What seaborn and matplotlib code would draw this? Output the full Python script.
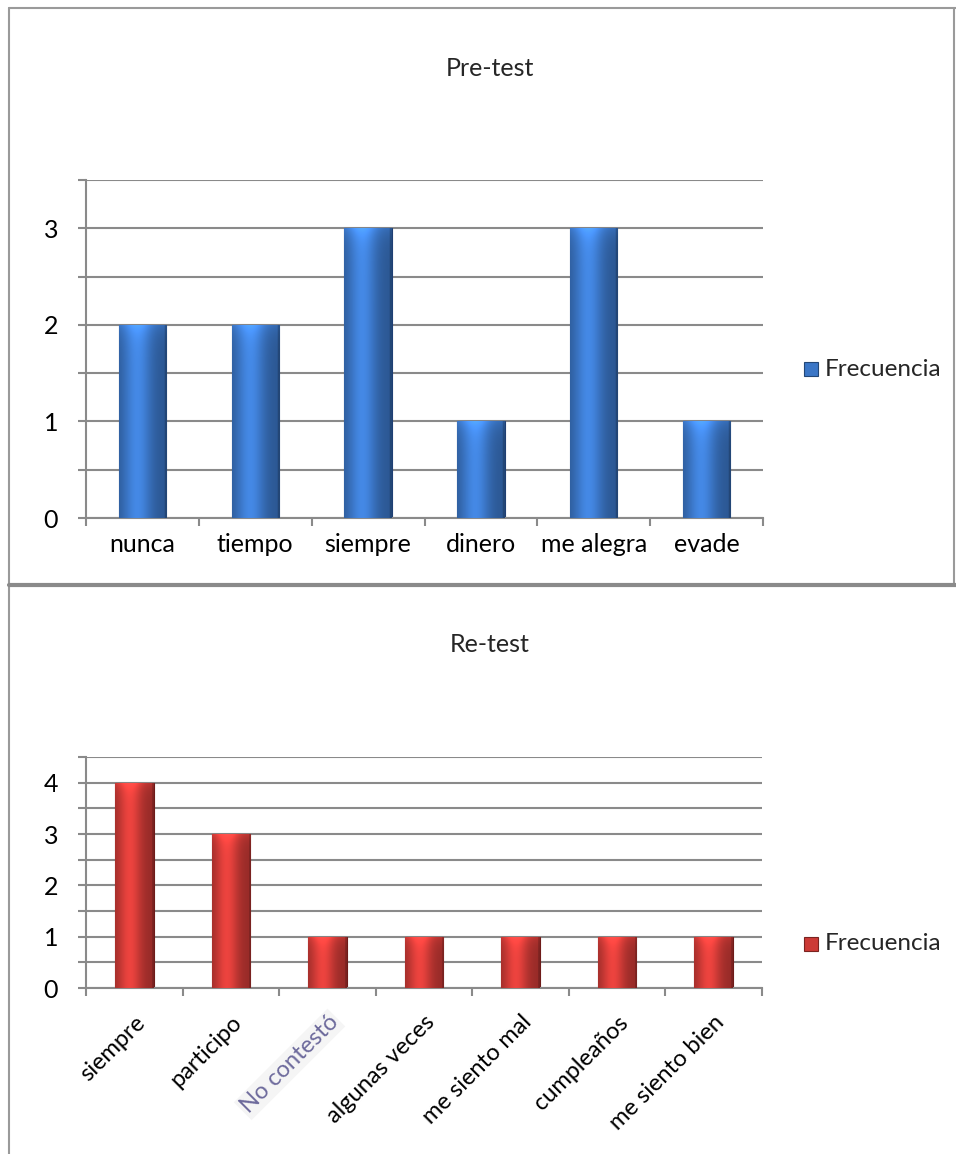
import numpy as np
import pandas as pd
import matplotlib
matplotlib.use("Agg")
import matplotlib.pyplot as plt
import seaborn as sns
from matplotlib.lines import Line2D
from matplotlib.patches import Rectangle
from matplotlib.ticker import MultipleLocator, FixedLocator
import matplotlib.colors as mcolors

# ---- data ----
pre_categories = ["nunca", "tiempo", "siempre", "dinero", "me alegra", "evade"]
pre_values = [2, 2, 3, 1, 3, 1]

re_categories = ["siempre", "participo", "No contestó", "algunas veces",
                 "me siento mal", "cumpleaños", "me siento bien"]
re_values = [4, 3, 1, 1, 1, 1, 1]

series_name = "Frecuencia"
pre_title = "Pre-test"
re_title = "Re-test"

BLUE = "#3b76c6"
RED = "#cc3a36"
GRID = "#8a8a8a"

sns.set_theme(style="white")
plt.rcParams["font.family"] = ["Lato", "DejaVu Sans"]

fig = plt.figure(figsize=(9.56, 11.54), dpi=100)
W, H = 956, 1154


def fx(px):
    return px / W


def fy(py):
    return 1 - py / H


def shade_bars(ax, color):
    """Overlay a soft horizontal and vertical gradient on each bar for a rounded look."""
    base = np.array(mcolors.to_rgb(color))
    nx = 64
    t = np.linspace(0, 1, nx)
    prof = 0.74 + 0.42 * np.exp(-((t - 0.38) / 0.3) ** 2)
    prof[-3:] *= 0.8
    ymax = ax.get_ylim()[1]
    for p in ax.patches:
        x0, y0 = p.get_x(), p.get_y()
        w, h = p.get_width(), p.get_height()
        if h <= 0:
            continue
        rows = max(int(64 * h / ymax * 3), 8)
        vv = np.linspace(0, h / ymax, rows)
        vp = 1 + 0.22 * np.exp(-vv / 0.03)
        sh = prof[None, :] * vp[:, None]
        rgb_b = np.clip(base[None, None, :] * sh[:, :, None], 0, 1)
        img_b = np.concatenate([rgb_b, np.ones((rows, nx, 1))], axis=2)
        im = ax.imshow(img_b, extent=[x0, x0 + w, y0, y0 + h], aspect="auto",
                       zorder=3, interpolation="bilinear", origin="upper")
        im.set_clip_path(p)
    ax.set_xlim(-0.5, len(ax.get_xticks()) - 0.5)
    ax.set_ylim(0, ymax)


def style_axes(ax, ymax, n):
    ax.set_ylim(0, ymax)
    ax.yaxis.set_major_locator(MultipleLocator(0.5))
    ax.set_yticklabels([("%d" % v) if abs(v - round(v)) < 1e-9 else "" for v in ax.get_yticks()])
    ax.grid(axis="y", color=GRID, linewidth=1.5, zorder=0)
    ax.set_axisbelow(True)
    for s in ["top", "right"]:
        ax.spines[s].set_visible(False)
    for s in ["left", "bottom"]:
        ax.spines[s].set_color(GRID)
        ax.spines[s].set_linewidth(1.5)
    ax.tick_params(axis="y", which="major", length=6, width=1.5, color=GRID,
                   direction="out", left=True, pad=14, labelsize=18, labelcolor="black")
    ax.xaxis.set_minor_locator(FixedLocator(np.arange(-0.5, n, 1.0)))
    ax.tick_params(axis="x", which="minor", length=6, width=1.5, color=GRID,
                   direction="out", bottom=True)
    ax.tick_params(axis="x", which="major", length=0, labelsize=18, labelcolor="black")
    ax.set_xlabel("")
    ax.set_ylabel("")


def legend_box(color, y_px):
    fig.add_artist(Rectangle((fx(804), fy(y_px + 7)), fx(14), 14 / H,
                             transform=fig.transFigure, facecolor=color,
                             edgecolor=mcolors.to_hex(np.array(mcolors.to_rgb(color)) * 0.6),
                             linewidth=0.8))
    fig.text(fx(825), fy(y_px), series_name, fontsize=17.5, va="center", ha="left")


# ---- Pre-test ----
ax1 = fig.add_axes([fx(86), fy(518), fx(763) - fx(86), fy(180) - fy(518)])
df1 = pd.DataFrame({"cat": pre_categories, "val": pre_values})
sns.barplot(data=df1, x="cat", y="val", ax=ax1, color=BLUE, width=0.42,
            saturation=1, edgecolor="#1f3f73", linewidth=0.8, zorder=2)
style_axes(ax1, 3.5, len(pre_categories))
ax1.tick_params(axis="x", which="major", pad=11)
shade_bars(ax1, BLUE)
fig.text(fx(490), fy(68), pre_title, fontsize=18, ha="center", va="center")
legend_box(BLUE, 369)

# ---- Re-test ----
ax2 = fig.add_axes([fx(86), fy(988), fx(762) - fx(86), fy(757) - fy(988)])
df2 = pd.DataFrame({"cat": re_categories, "val": re_values})
sns.barplot(data=df2, x="cat", y="val", ax=ax2, color=RED, width=0.4,
            saturation=1, edgecolor="#6e1b19", linewidth=0.8, zorder=2)
style_axes(ax2, 4.5, len(re_categories))
for lab in ax2.get_xticklabels():
    lab.set_rotation(45)
    lab.set_ha("right")
    lab.set_rotation_mode("anchor")
    lab.set_fontsize(17)
    if lab.get_text() == "No contestó":
        lab.set_color("#6d6a9c")
        lab.set_bbox(dict(facecolor="#f5f5f5", edgecolor="none", pad=1.5))
ax2.tick_params(axis="x", which="major", pad=17)
shade_bars(ax2, RED)
fig.text(fx(490), fy(644), re_title, fontsize=18, ha="center", va="center")
legend_box(RED, 944)

# ---- chart frames ----
frame = dict(color="#9a9a9a", linewidth=1.5, transform=fig.transFigure)
fig.add_artist(Line2D([fx(9), fx(9)], [0, fy(8)], **frame))
fig.add_artist(Line2D([fx(9), 1], [fy(8), fy(8)], **frame))
fig.add_artist(Line2D([fx(954), fx(954)], [fy(8), fy(585)], **frame))
fig.add_artist(Line2D([fx(9), 1], [fy(585), fy(585)], color="#8a8a8a", linewidth=3,
                      transform=fig.transFigure))

fig.savefig("out.png", dpi=100, facecolor="white")
